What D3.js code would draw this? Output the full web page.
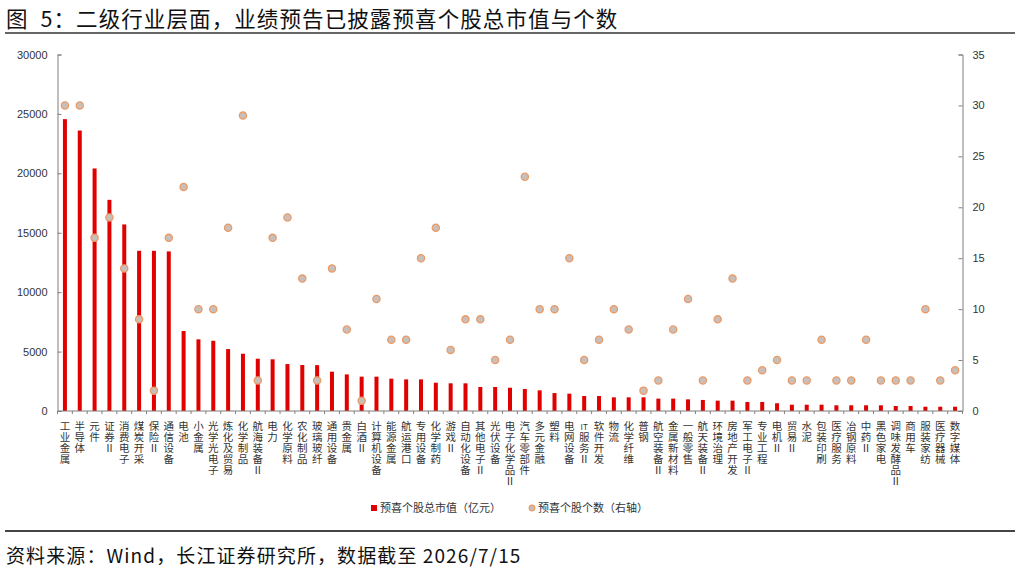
<!DOCTYPE html>
<html>
<head>
<meta charset="utf-8">
<script src="https://cdn.jsdelivr.net/npm/d3@7"></script>
<style>
  body { margin: 0; background: #fff; }
  svg { display: block; }
  text { font-family: "Liberation Sans", "Noto Sans CJK SC", sans-serif; }
  .cjk { font-family: "Noto Sans CJK SC", "Liberation Sans", sans-serif; }
</style>
</head>
<body>
<div id="chart"></div>
<script>
// industries, sorted by total market value
var categories = ["工业金属","半导体","元件","证券Ⅱ","消费电子","煤炭开采","保险Ⅱ","通信设备","电池","小金属",
  "光学光电子","炼化及贸易","化学制品","航海装备Ⅱ","电力","化学原料","农化制品","玻璃玻纤","通用设备","贵金属",
  "白酒Ⅱ","计算机设备","能源金属","航运港口","专用设备","化学制药","游戏Ⅱ","自动化设备","其他电子Ⅱ","光伏设备",
  "电子化学品Ⅱ","汽车零部件","多元金融","塑料","电网设备","IT服务Ⅱ","软件开发","物流","化学纤维","普钢",
  "航空装备Ⅱ","金属新材料","一般零售","航天装备Ⅱ","环境治理","房地产开发","军工电子Ⅱ","专业工程","电机Ⅱ","贸易Ⅱ",
  "水泥","包装印刷","医疗服务","冶钢原料","中药Ⅱ","黑色家电","调味发酵品Ⅱ","商用车","服装家纺","医疗器械","数字媒体"];

// 预喜个股总市值（亿元）
var marketValue = [24560,23600,20410,17770,15700,13480,13480,13430,6730,6030,
  5910,5210,4820,4400,4350,3950,3870,3860,3310,3080,
  2890,2890,2720,2660,2660,2380,2330,2330,2020,2020,
  1960,1850,1740,1510,1460,1260,1260,1150,1150,1150,
  1040,1040,980,930,870,870,760,760,650,530,
  530,530,480,480,480,480,420,420,360,360,360];

// 预喜个股个数（右轴）
var stockCount = [30,30,17,19,14,9,2,17,22,10,
  10,18,29,3,17,19,13,3,14,8,
  1,11,7,7,15,18,6,9,9,5,
  7,23,10,10,15,5,7,10,8,2,
  3,8,11,3,9,13,3,4,5,3,
  3,7,3,3,7,3,3,3,10,3,4];

var leftTicks = [0,5000,10000,15000,20000,25000,30000];
var rightTicks = [0,5,10,15,20,25,30,35];

var W = 1020, H = 576;
var plotLeft = 57.5, plotRight = 962.5, plotTop = 54.5, plotBottom = 411;
var barRed = "#e00000", dotFill = "#c9bfba", dotStroke = "#eb9a66", axisGray = "#7f7f7f";

var svg = d3.select("#chart").append("svg").attr("width", W).attr("height", H);

// title
svg.append("text").attr("class", "cjk")
  .attr("x", 6).attr("y", 27)
  .attr("font-size", "21.5px").attr("fill", "#111")
  .attr("letter-spacing", "1.1px")
  .attr("xml:space", "preserve")
  .text("图  5：二级行业层面，业绩预告已披露预喜个股总市值与个数");
svg.append("line").attr("x1", 5).attr("x2", 1015).attr("y1", 33).attr("y2", 33)
  .attr("stroke", "#333").attr("stroke-width", 1.5);

var x = d3.scaleBand().domain(categories).range([plotLeft, plotRight]).paddingInner(0).paddingOuter(0);
var yL = d3.scaleLinear().domain([0, 30000]).range([plotBottom, plotTop]);
var yR = d3.scaleLinear().domain([0, 35]).range([plotBottom, plotTop]);

// left axis
var gL = svg.append("g").attr("transform", "translate(" + plotLeft + ",0)")
  .call(d3.axisLeft(yL).tickValues(leftTicks).tickSize(-4).tickPadding(10).tickFormat(d3.format("d")));
// right axis
var gR = svg.append("g").attr("transform", "translate(" + plotRight + ",0)")
  .call(d3.axisRight(yR).tickValues(rightTicks).tickSize(-4).tickPadding(10));
[gL, gR].forEach(function(g) {
  g.select(".domain").attr("stroke", axisGray);
  g.selectAll(".tick line").attr("stroke", axisGray);
  g.selectAll(".tick text").attr("fill", "#333").attr("font-size", "11px")
    .attr("font-family", "Liberation Sans, sans-serif");
});

// bars
var barW = 4;
svg.append("g").selectAll("rect").data(categories).enter().append("rect")
  .attr("x", function(d) { return x(d) + x.bandwidth() / 2 - barW / 2; })
  .attr("y", function(d, i) { return yL(marketValue[i]); })
  .attr("width", barW)
  .attr("height", function(d, i) { return plotBottom - yL(marketValue[i]); })
  .attr("fill", barRed);

// x axis baseline and ticks between categories
var gX = svg.append("g").attr("transform", "translate(0," + plotBottom + ")");
gX.append("line").attr("x1", plotLeft).attr("x2", plotRight).attr("y1", 0).attr("y2", 0)
  .attr("stroke", axisGray).attr("stroke-width", 1.2);
gX.selectAll("line.tk").data(categories.concat(["__end"])).enter().append("line")
  .attr("class", "tk")
  .attr("x1", function(d, i) { return i < categories.length ? x(d) : plotRight; })
  .attr("x2", function(d, i) { return i < categories.length ? x(d) : plotRight; })
  .attr("y1", 0).attr("y2", 3)
  .attr("stroke", axisGray);

// vertical category labels, one glyph per row
var labels = svg.append("g").selectAll("text").data(categories).enter().append("text")
  .attr("class", "cjk")
  .attr("font-size", "10.5px").attr("fill", "#333")
  .attr("text-anchor", "middle");
labels.each(function(d) {
  var cx = x(d) + x.bandwidth() / 2;
  var parts = d.match(/IT|./g);
  d3.select(this).selectAll("tspan").data(parts).enter().append("tspan")
    .attr("x", cx)
    .attr("y", function(p, j) { return 429.5 + j * 11; })
    .attr("font-size", function(p) { return p === "IT" ? "8px" : null; })
    .text(function(p) { return p; });
});

// dots
svg.append("g").selectAll("circle").data(categories).enter().append("circle")
  .attr("cx", function(d) { return x(d) + x.bandwidth() / 2; })
  .attr("cy", function(d, i) { return yR(stockCount[i]); })
  .attr("r", 3.6)
  .attr("fill", dotFill)
  .attr("stroke", dotStroke)
  .attr("stroke-width", 1.3);

// legend
var lg = svg.append("g");
lg.append("rect").attr("x", 371).attr("y", 505).attr("width", 6).attr("height", 6).attr("fill", barRed);
lg.append("text").attr("class", "cjk").attr("x", 380).attr("y", 512)
  .attr("font-size", "11px").attr("fill", "#333").text("预喜个股总市值（亿元）");
lg.append("circle").attr("cx", 532).attr("cy", 508).attr("r", 2.8)
  .attr("fill", dotFill).attr("stroke", dotStroke).attr("stroke-width", 1.2);
lg.append("text").attr("class", "cjk").attr("x", 538).attr("y", 512)
  .attr("font-size", "11px").attr("fill", "#333").text("预喜个股个数（右轴）");

// footer
svg.append("line").attr("x1", 5).attr("x2", 1015).attr("y1", 531).attr("y2", 531)
  .attr("stroke", "#444").attr("stroke-width", 2);
svg.append("text").attr("class", "cjk")
  .attr("x", 6).attr("y", 563)
  .attr("font-size", "19px").attr("fill", "#111")
  .attr("letter-spacing", "1.1px")
  .text("资料来源：Wind，长江证券研究所，数据截至 2026/7/15");
</script>
</body>
</html>
